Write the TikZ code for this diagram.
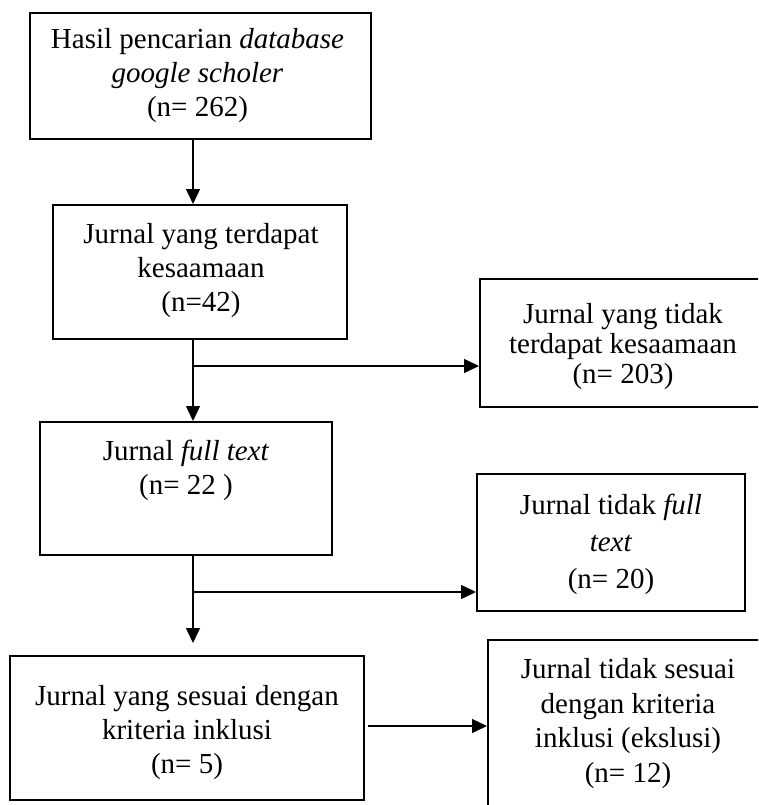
\documentclass[tikz,border=0pt]{standalone}
\usepackage{fontspec}
\setmainfont{Liberation Serif}
\usetikzlibrary{arrows.meta}
\tikzset{
  box/.style={draw, line width=2pt, inner sep=0pt, minimum width=#1},
  txt/.style={align=center, font=\fontsize{29}{34}\selectfont, inner sep=0pt},
  arr/.style={line width=1.4pt, -{Triangle[length=15pt,width=14pt]}},
}
\begin{document}
\begin{tikzpicture}[x=1pt,y=-1pt]
\useasboundingbox (0,0) rectangle (758,805);
\clip (0,0) rectangle (758,805);
% boxes
\node[box=341pt, minimum height=126pt] (b1) at (200.5,76) {};
\node[box=294pt, minimum height=134pt] (b2) at (200,272) {};
\node[box=292pt, minimum height=133pt] (b3) at (186,488.5) {};
\node[box=354pt, minimum height=144pt] (b4) at (187,728) {};
\node[box=286pt, minimum height=128pt] (r1) at (623,343) {};
\node[box=268pt, minimum height=137pt] (r2) at (611,542.5) {};
\node[box=280pt, minimum height=167pt] (r3) at (628,723.5) {};
% texts
\node[txt] (t1) at (197.5,76) {Hasil pencarian \textit{database}\\\textit{google scholer}\\(n= 262)};
\node[txt] (t2) at (201,271) {Jurnal yang terdapat\\kesaamaan\\(n=42)};
\node[txt] (t3) at (186,470) {Jurnal \textit{full text}\\(n= 22 )};
\node[txt] (t4) at (187,733) {Jurnal yang sesuai dengan\\kriteria inklusi\\(n= 5)};
\node[txt, font=\fontsize{29}{30}\selectfont] (tr1) at (623,347) {Jurnal yang tidak\\terdapat kesaamaan\\(n= 203)};
\node[txt, font=\fontsize{29}{37}\selectfont] (tr2) at (611,544) {Jurnal tidak \textit{full}\\\textit{text}\\(n= 20)};
\node[txt, font=\fontsize{29}{34.5}\selectfont] (tr3) at (628,723.5) {Jurnal tidak sesuai\\dengan kriteria\\inklusi (ekslusi)\\(n= 12)};
% connectors
\coordinate (ax) at (193,0);
\coordinate (j1) at (193,366);
\coordinate (j2) at (193,592);
\coordinate (e3) at (193,643);
\coordinate (s4) at (368,726);
\draw[arr] (b1.south -| ax) -- (b2.north -| ax);
\draw[arr] (b2.south -| ax) -- (b3.north -| ax);
\draw[arr] (j1) -- (j1 -| r1.west);
\draw[arr] (b3.south -| ax) -- (e3);
\draw[arr] (j2) -- (j2 -| r2.west);
\draw[arr] (s4) -- (s4 -| r3.west);
\end{tikzpicture}
\end{document}
